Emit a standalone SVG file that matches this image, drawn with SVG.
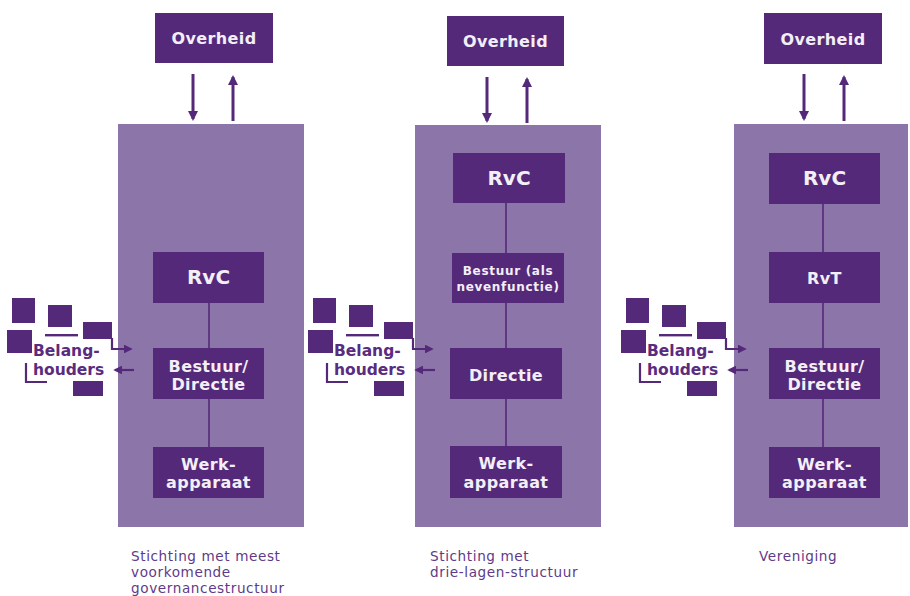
<svg xmlns="http://www.w3.org/2000/svg" xmlns:xlink="http://www.w3.org/1999/xlink" width="910" height="596" viewBox="0 0 910 596">
  <style>
    .panel { fill: #8C75A9; }
    .box { fill: #55297A; }
    .lbl { font-family: "DejaVu Sans", Verdana, sans-serif; font-weight: bold; fill: #F3EFF7; text-anchor: middle; }
    .big { font-size: 20px; }
    .mid { font-size: 16px; letter-spacing: 0.4px; }
    .small { font-size: 12px; letter-spacing: 0.7px; }
    .link { stroke: #55297A; stroke-width: 1.6; fill: none; }
    .arrow { stroke: #55297A; stroke-width: 3; fill: none; }
    .thin { stroke: #55297A; stroke-width: 2.2; fill: none; }
    .stake { fill: #55297A; }
    .stake-txt { font-family: "DejaVu Sans", Verdana, sans-serif; font-weight: bold; font-size: 15.5px; fill: #5A2C80; stroke: #FFFFFF; stroke-width: 3; paint-order: stroke; stroke-linejoin: round; }
    .caption { font-family: "DejaVu Sans", Verdana, sans-serif; font-size: 13.6px; letter-spacing: 0.6px; fill: #5E3A88; }
  </style>
  <defs>
    <marker id="head" viewBox="0 0 10 10" refX="8" refY="5" markerWidth="3.4" markerHeight="3.4" orient="auto" markerUnits="strokeWidth">
      <path d="M0,0 L10,5 L0,10 Z" fill="#55297A"/>
    </marker>
    <marker id="head-s" viewBox="0 0 10 10" refX="8" refY="5" markerWidth="4" markerHeight="4" orient="auto" markerUnits="strokeWidth">
      <path d="M0,0 L10,5 L0,10 Z" fill="#55297A"/>
    </marker>
    <!-- stakeholder cluster: scattered squares around the label -->
    <g id="stakeholders">
      <rect class="stake" x="12" y="298" width="23" height="25"/>
      <rect class="stake" x="48" y="305" width="24" height="22"/>
      <rect class="stake" x="83" y="322" width="29" height="17"/>
      <rect class="stake" x="7" y="330" width="25" height="23"/>
      <rect class="stake" x="45" y="334" width="33" height="2.4"/>
      <rect class="stake" x="73" y="381" width="30" height="15"/>
      <path class="thin" d="M26,363 V382 H47"/>
      <text class="stake-txt" x="33" y="356">Belang-</text>
      <text class="stake-txt" x="33" y="375">houders</text>
      <path class="thin" d="M112,338 V349 H131" marker-end="url(#head-s)"/>
      <path class="thin" d="M134,370 H115" marker-end="url(#head-s)"/>
    </g>
  </defs>

  <!-- column panels -->
  <g id="panel-1"><rect class="panel" x="118" y="124" width="186" height="403"/></g>
  <g id="panel-2"><rect class="panel" x="415" y="125" width="186" height="402"/></g>
  <g id="panel-3"><rect class="panel" x="734" y="124" width="174" height="403"/></g>

  <!-- connectors -->
  <g id="connectors">
    <path class="arrow" d="M193,74 V119" marker-end="url(#head)"/>
    <path class="arrow" d="M233,121 V77" marker-end="url(#head)"/>
    <path class="arrow" d="M487,77 V121" marker-end="url(#head)"/>
    <path class="arrow" d="M527,123 V79" marker-end="url(#head)"/>
    <path class="arrow" d="M804,74 V119" marker-end="url(#head)"/>
    <path class="arrow" d="M844,121 V77" marker-end="url(#head)"/>

    <path class="link" d="M209,303 V348 M209,399 V447"/>
    <path class="link" d="M506,203 V253 M506,303 V348 M506,399 V446"/>
    <path class="link" d="M823,204 V252 M823,303 V348 M823,399 V447"/>
  </g>

  <!-- column 1 -->
  <g id="overheid-1"><rect class="box" x="155" y="13" width="118" height="50"/><text class="lbl mid" x="214" y="44">Overheid</text></g>
  <g id="rvc-1"><rect class="box" x="153" y="252" width="111" height="51"/><text class="lbl big" x="208.5" y="284">RvC</text></g>
  <g id="bestuur-1"><rect class="box" x="153" y="348" width="111" height="51"/><text class="lbl mid" x="208.5" y="372">Bestuur/</text><text class="lbl mid" x="208.5" y="390">Directie</text></g>
  <g id="werk-1"><rect class="box" x="153" y="447" width="111" height="51"/><text class="lbl mid" x="208.5" y="470">Werk-</text><text class="lbl mid" x="208.5" y="488">apparaat</text></g>
  <g id="belang-1"><use xlink:href="#stakeholders"/></g>

  <!-- column 2 -->
  <g id="overheid-2"><rect class="box" x="447" y="16" width="117" height="50"/><text class="lbl mid" x="505.5" y="47">Overheid</text></g>
  <g id="rvc-2"><rect class="box" x="453" y="153" width="112" height="50"/><text class="lbl big" x="509" y="185">RvC</text></g>
  <g id="bestuur-2"><rect class="box" x="452" y="253" width="112" height="50"/><text class="lbl small" x="508" y="275">Bestuur (als</text><text class="lbl small" x="508" y="291">nevenfunctie)</text></g>
  <g id="directie-2"><rect class="box" x="450" y="348" width="112" height="51"/><text class="lbl mid" x="506" y="381">Directie</text></g>
  <g id="werk-2"><rect class="box" x="450" y="446" width="112" height="52"/><text class="lbl mid" x="506" y="469">Werk-</text><text class="lbl mid" x="506" y="488">apparaat</text></g>
  <g id="belang-2" transform="translate(301,0)"><use xlink:href="#stakeholders"/></g>

  <!-- column 3 -->
  <g id="overheid-3"><rect class="box" x="764" y="13" width="118" height="51"/><text class="lbl mid" x="823" y="45">Overheid</text></g>
  <g id="rvc-3"><rect class="box" x="769" y="153" width="111" height="51"/><text class="lbl big" x="824.5" y="185">RvC</text></g>
  <g id="rvt-3"><rect class="box" x="769" y="252" width="111" height="51"/><text class="lbl mid" x="824.5" y="284">RvT</text></g>
  <g id="bestuur-3"><rect class="box" x="769" y="348" width="111" height="51"/><text class="lbl mid" x="824.5" y="372">Bestuur/</text><text class="lbl mid" x="824.5" y="390">Directie</text></g>
  <g id="werk-3"><rect class="box" x="769" y="447" width="111" height="51"/><text class="lbl mid" x="824.5" y="470">Werk-</text><text class="lbl mid" x="824.5" y="488">apparaat</text></g>
  <g id="belang-3" transform="translate(614,0)"><use xlink:href="#stakeholders"/></g>

  <!-- captions -->
  <g id="captions">
    <text class="caption" x="131" y="561">Stichting met meest</text>
    <text class="caption" x="131" y="577">voorkomende</text>
    <text class="caption" x="131" y="593">governancestructuur</text>
    <text class="caption" x="430" y="561">Stichting met</text>
    <text class="caption" x="430" y="577">drie-lagen-structuur</text>
    <text class="caption" x="759" y="561">Vereniging</text>
  </g>
</svg>
